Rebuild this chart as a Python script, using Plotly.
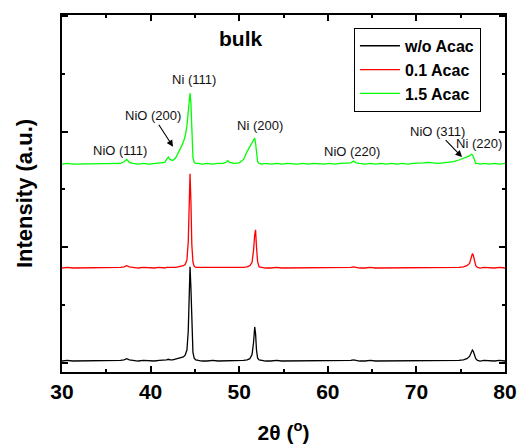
import plotly.graph_objects as go

two_theta = [
    30.0, 30.6, 31.2, 31.8, 32.4, 33.0, 33.6, 34.2, 34.8, 35.4,
    36.0, 36.6, 37.0, 37.3, 37.6, 38.0, 38.6, 39.2, 39.8, 40.4,
    41.0, 41.6, 41.8, 42.0, 42.2, 42.5, 42.8, 43.1, 43.4, 43.7,
    43.9, 44.1, 44.25, 44.35, 44.45, 44.55, 44.65, 44.78, 44.92, 45.1,
    45.4, 45.8, 46.4, 47.0, 47.6, 48.2, 48.5, 48.7, 48.9, 49.4,
    50.0, 50.5, 50.9, 51.2, 51.45, 51.62, 51.75, 51.85, 51.95, 52.08,
    52.25, 52.5, 53.0, 53.6, 54.2, 54.8, 55.4, 56.0, 56.6, 57.2,
    57.8, 58.4, 59.0, 59.6, 60.2, 60.8, 61.4, 62.0, 62.6, 62.9,
    63.2, 63.6, 64.2, 64.8, 65.4, 66.0, 66.6, 67.2, 67.8, 68.4,
    69.0, 69.6, 70.2, 70.8, 71.3, 71.8, 72.4, 73.0, 73.6, 74.2,
    74.8, 75.3, 75.7, 76.0, 76.2, 76.32, 76.42, 76.55, 76.7, 76.9,
    77.2, 77.6, 78.2, 78.8, 79.4, 80.0,
]

int_wo_acac = [
    0.03, 0.04, 0.03, 0.03, 0.04, 0.03, 0.03, 0.04, 0.03, 0.03,
    0.03, 0.04, 0.05, 0.07, 0.05, 0.04, 0.03, 0.04, 0.03, 0.03,
    0.04, 0.04, 0.05, 0.06, 0.05, 0.05, 0.06, 0.07, 0.08, 0.10,
    0.13, 0.22, 0.55, 1.25, 1.66, 1.30, 0.55, 0.18, 0.08, 0.05,
    0.04, 0.03, 0.03, 0.04, 0.03, 0.03, 0.04, 0.04, 0.03, 0.03,
    0.03, 0.04, 0.05, 0.07, 0.14, 0.35, 0.62, 0.50, 0.22, 0.08,
    0.05, 0.04, 0.03, 0.03, 0.04, 0.03, 0.03, 0.04, 0.03, 0.03,
    0.04, 0.03, 0.03, 0.04, 0.03, 0.03, 0.04, 0.03, 0.04, 0.05,
    0.04, 0.03, 0.03, 0.04, 0.03, 0.03, 0.04, 0.03, 0.03, 0.04,
    0.03, 0.03, 0.04, 0.03, 0.03, 0.04, 0.03, 0.03, 0.04, 0.04,
    0.04, 0.05, 0.07, 0.11, 0.18, 0.22, 0.20, 0.13, 0.07, 0.04,
    0.03, 0.04, 0.03, 0.03, 0.04, 0.03,
]

int_01_acac = [
    1.64, 1.65, 1.64, 1.64, 1.65, 1.64, 1.64, 1.65, 1.64, 1.64,
    1.64, 1.65, 1.66, 1.68, 1.66, 1.65, 1.64, 1.65, 1.64, 1.64,
    1.65, 1.64, 1.65, 1.65, 1.64, 1.65, 1.65, 1.66, 1.67, 1.68,
    1.70, 1.78, 2.10, 2.85, 3.27, 2.80, 2.05, 1.74, 1.67, 1.65,
    1.65, 1.64, 1.64, 1.65, 1.64, 1.64, 1.65, 1.65, 1.64, 1.64,
    1.64, 1.65, 1.66, 1.68, 1.74, 1.95, 2.22, 2.30, 2.00, 1.75,
    1.66, 1.65, 1.64, 1.64, 1.65, 1.64, 1.64, 1.65, 1.64, 1.64,
    1.65, 1.64, 1.64, 1.65, 1.64, 1.64, 1.65, 1.64, 1.65, 1.66,
    1.65, 1.64, 1.64, 1.65, 1.64, 1.64, 1.65, 1.64, 1.64, 1.65,
    1.64, 1.64, 1.65, 1.64, 1.64, 1.65, 1.64, 1.64, 1.65, 1.65,
    1.65, 1.66, 1.68, 1.72, 1.82, 1.89, 1.86, 1.76, 1.68, 1.65,
    1.64, 1.65, 1.64, 1.64, 1.65, 1.64,
]

int_15_acac = [
    3.44, 3.45, 3.44, 3.44, 3.45, 3.44, 3.45, 3.44, 3.44, 3.45,
    3.44, 3.45, 3.48, 3.52, 3.47, 3.45, 3.44, 3.45, 3.44, 3.45,
    3.45, 3.47, 3.52, 3.56, 3.52, 3.50, 3.54, 3.62, 3.72, 3.82,
    3.92, 4.10, 4.35, 4.58, 4.67, 4.50, 4.00, 3.55, 3.47, 3.45,
    3.45, 3.44, 3.45, 3.44, 3.45, 3.45, 3.47, 3.50, 3.47, 3.45,
    3.46, 3.52, 3.66, 3.74, 3.80, 3.86, 3.89, 3.80, 3.62, 3.48,
    3.45, 3.44, 3.45, 3.44, 3.45, 3.44, 3.45, 3.44, 3.44, 3.45,
    3.44, 3.45, 3.44, 3.44, 3.45, 3.44, 3.45, 3.45, 3.46, 3.49,
    3.46, 3.45, 3.44, 3.45, 3.44, 3.45, 3.44, 3.45, 3.44, 3.45,
    3.44, 3.45, 3.45, 3.46, 3.47, 3.46, 3.45, 3.46, 3.47, 3.48,
    3.51, 3.54, 3.56, 3.58, 3.61, 3.60, 3.57, 3.50, 3.45, 3.45,
    3.44, 3.45, 3.44, 3.45, 3.44, 3.45,
]

series_names = ["w/o Acac", "0.1 Acac", "1.5 Acac"]
series_colors = ["#000000", "#ff0000", "#00ff00"]

peak_labels = ["NiO (111)", "Ni (111)", "Ni (200)", "NiO (220)", "Ni (220)"]
peak_label_x = [36.55, 44.9, 52.35, 62.73, 77.07]
peak_label_y = [3.67, 4.91, 4.10, 3.65, 3.79]

arrow_labels = ["NiO (200)", "NiO (311)"]
arrow_head_x = [42.53, 75.15]
arrow_head_y = [3.74, 3.56]
arrow_dx = [-20, -25]
arrow_dy = [-31, -26]

FONT = "Arial, Liberation Sans, sans-serif"

fig = go.Figure()
for name, color, ys in zip(series_names, series_colors,
                           [int_wo_acac, int_01_acac, int_15_acac]):
    fig.add_trace(go.Scatter(x=two_theta, y=ys, mode="lines", name=name,
                             line=dict(color=color, width=1.3)))

annotations = []
for t, x, y in zip(peak_labels, peak_label_x, peak_label_y):
    annotations.append(dict(x=x, y=y, text=t, showarrow=False,
                            font=dict(family=FONT, size=13, color="#111")))
for t, x, y, dx, dy in zip(arrow_labels, arrow_head_x, arrow_head_y, arrow_dx, arrow_dy):
    annotations.append(dict(x=x, y=y, text=t, showarrow=True, ax=dx, ay=dy,
                            arrowhead=2, arrowsize=1.2, arrowwidth=1.1,
                            arrowcolor="#000", standoff=0,
                            font=dict(family=FONT, size=13, color="#111")))
annotations.append(dict(x=50.09, y=5.61, text="<b>bulk</b>", showarrow=False,
                        font=dict(family=FONT, size=21, color="#000")))

axis_common = dict(showline=True, linecolor="#000", linewidth=2, mirror="ticks",
                   ticks="inside", tickcolor="#000", tickwidth=2,
                   showgrid=False, zeroline=False, automargin=False)

fig.update_layout(
    width=518, height=444,
    margin=dict(l=62, r=13, t=15, b=72),
    paper_bgcolor="white", plot_bgcolor="white",
    font=dict(family=FONT, color="#000"),
    showlegend=True,
    legend=dict(x=0.659, y=0.964, xanchor="left", yanchor="top",
                bgcolor="white", bordercolor="#000", borderwidth=1,
                font=dict(family=FONT, size=16, color="#000", weight="bold"),
                tracegroupgap=0, itemwidth=40),
    annotations=annotations,
    xaxis=dict(range=[30, 80], dtick=10, tick0=30, ticklen=6,
               tickfont=dict(family=FONT, size=21, weight="bold"),
               minor=dict(dtick=5, ticks="inside", ticklen=3, tickcolor="#000", tickwidth=2),
               title=dict(text="<b>2θ (<sup>o</sup>)</b>", standoff=24,
                          font=dict(family=FONT, size=21)),
               **axis_common),
    yaxis=dict(range=[-0.16, 6.02], dtick=2, tick0=0, ticklen=6,
               showticklabels=False,
               minor=dict(dtick=1, ticks="inside", ticklen=3, tickcolor="#000", tickwidth=2),
               title=dict(text="<b>Intensity (a.u.)</b>", standoff=21,
                          font=dict(family=FONT, size=22)),
               **axis_common),
)

fig.write_html("out.html")
